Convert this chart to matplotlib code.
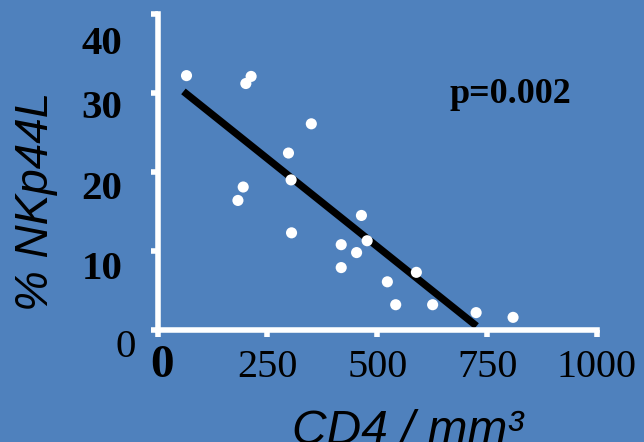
import matplotlib
matplotlib.use("Agg")
import matplotlib.pyplot as plt
import matplotlib.transforms as mtransforms

# CD4 count vs %NKp44L
cd4 = [66, 201, 213, 350, 298, 304, 195, 183, 305, 464,
       477, 418, 453, 418, 589, 523, 542, 626, 725, 809]
nkp44l = [32.2, 31.2, 32.1, 26.1, 22.4, 19.0, 18.1, 16.4, 12.3, 14.5,
          11.3, 10.8, 9.8, 7.9, 7.3, 6.1, 3.2, 3.2, 2.2, 1.6]

# regression line end points
fit_x = [59, 726]
fit_y = [30.2, 0.5]

x_ticks = [0, 250, 500, 750, 1000]
x_labels = ["0", "250", "500", "750", "1000"]
y_ticks = [0, 10, 20, 30, 40]
y_labels = ["0", "10", "20", "30", "40"]
p_text = "p=0.002"

bg = "#4F81BD"
serif = "Liberation Serif"
sans = "Liberation Sans"

fig = plt.figure(figsize=(6.44, 4.42), dpi=100, facecolor=bg)
ax = fig.add_axes([157.5 / 644, 112 / 442, 439.5 / 644, 316 / 442])
ax.set_facecolor(bg)

ax.plot(fit_x, fit_y, color="black", lw=5.2, solid_capstyle="butt", zorder=2)
ax.scatter(cd4, nkp44l, s=64, color="white", edgecolors="none", zorder=3)

ax.set_xlim(0, 1000)
ax.set_ylim(0, 40)
for side in ["top", "right"]:
    ax.spines[side].set_visible(False)
for side in ["left", "bottom"]:
    ax.spines[side].set_color("white")
    ax.spines[side].set_linewidth(4)
    ax.spines[side].set_capstyle("projecting")

ax.set_xticks(x_ticks)
ax.set_yticks(y_ticks)
ax.tick_params(colors="white", width=4, length=5, labelleft=False, labelbottom=False)


def px(dx, dy):
    # offset in pixels (dpi = 100)
    return mtransforms.ScaledTranslation(dx / 100, -dy / 100, fig.dpi_scale_trans)


# y tick labels (placed like the reference, slightly below their ticks)
y_shift = {0: (-22, 27), 10: (-35, 28), 20: (-35, 27), 30: (-35, 25), 40: (-35, 40)}
for v, lab in zip(y_ticks, y_labels):
    dx, dy = y_shift[v]
    tr = mtransforms.blended_transform_factory(ax.transAxes, ax.transData) + px(dx, dy)
    ax.text(0, v, lab, transform=tr, ha="right", va="baseline",
            family=serif, fontsize=29.5, fontweight="bold" if v > 0 else "normal",
            color="black")

# x tick labels
for v, lab in zip(x_ticks, x_labels):
    tr = mtransforms.blended_transform_factory(ax.transData, ax.transAxes)
    if v == 0:
        ax.text(v, 0, lab, transform=tr + px(4, 47), ha="center", va="baseline",
                family=serif, fontsize=34, fontweight="bold", color="black")
    else:
        ax.text(v, 0, lab, transform=tr + px(0, 47), ha="center", va="baseline",
                family=serif, fontsize=29, color="black")

ax.text(802, 28.7, p_text, ha="center", va="baseline", family=serif,
        fontsize=26, fontweight="bold", color="black")

fig.text(36 / 644, 1 - 201 / 442, "% NKp44L", rotation=90, ha="center", va="center",
         family=sans, style="italic", fontsize=33, color="black")
fig.text(408 / 644, 1 - 444 / 442, "CD4 / mm³", ha="center", va="baseline",
         family=sans, style="italic", fontsize=34.5, color="black")

fig.savefig("out.png", dpi=100, facecolor=bg)
